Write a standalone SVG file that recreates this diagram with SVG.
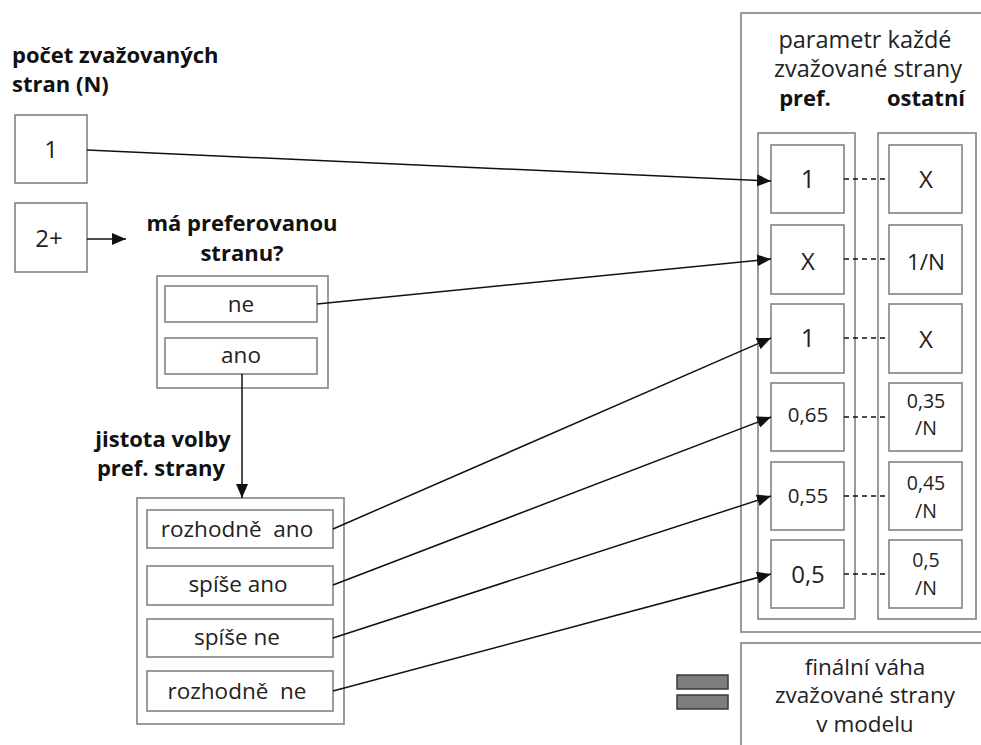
<svg xmlns="http://www.w3.org/2000/svg" width="981" height="745" viewBox="0 0 981 745">
<style>
text{font-family:"Open Sans","Noto Sans","DejaVu Sans",sans-serif;fill:#222;text-anchor:middle}
.b{font-weight:bold;font-size:22px;fill:#111}
.t{font-size:22.5px}
.h{font-size:23.5px}
.box{fill:#fff;stroke:#8a8a8a;stroke-width:1.7}
.con{stroke:#111;stroke-width:1.5;fill:none}
.dash{stroke:#111;stroke-width:1.3;stroke-dasharray:5 4;fill:none}
</style>
<defs>
<marker id="ah" markerUnits="userSpaceOnUse" markerWidth="14" markerHeight="12" refX="14" refY="6" orient="auto">
<path d="M0,0 L14,6 L0,12 Z" fill="#111"/>
</marker>
</defs>
<rect width="981" height="745" fill="#fff"/>

<g id="title">
<text class="b" x="12" y="63" style="text-anchor:start">počet zvažovaných</text>
<text class="b" x="12" y="92" style="text-anchor:start">stran (N)</text>
</g>
<g id="n1"><rect class="box" x="15" y="115" width="72" height="68"/><text x="51" y="158" font-size="24">1</text></g>
<g id="n2"><rect class="box" x="15" y="203" width="72" height="69"/><text x="49" y="247" font-size="24">2+</text></g>

<g id="q-pref">
<text class="b" x="242" y="231">má preferovanou</text>
<text class="b" x="242" y="261">stranu?</text>
<rect class="box" x="157" y="276" width="171" height="112"/>
<g id="ne"><rect class="box" x="165" y="286" width="152" height="36"/><text class="t" x="241" y="312">ne</text></g>
<g id="ano"><rect class="box" x="165" y="338" width="152" height="36"/><text class="t" x="241" y="363">ano</text></g>
</g>

<g id="q-jistota">
<text class="b" x="163" y="447">jistota volby</text>
<text class="b" x="161" y="476">pref. strany</text>
<rect class="box" x="137" y="498" width="207" height="226"/>
<g id="ra"><rect class="box" x="147" y="510" width="186" height="38"/><text class="t" x="237" y="537" font-size="21" xml:space="preserve">rozhodně  ano</text></g>
<g id="sa"><rect class="box" x="147" y="566" width="186" height="39"/><text class="t" x="238" y="592">spíše ano</text></g>
<g id="sn"><rect class="box" x="147" y="619" width="186" height="38"/><text class="t" x="237" y="645">spíše ne</text></g>
<g id="rn"><rect class="box" x="147" y="671" width="186" height="40"/><text class="t" x="237" y="699" font-size="21" xml:space="preserve">rozhodně  ne</text></g>
</g>

<g id="param">
<rect class="box" x="741" y="13" width="260" height="619"/>
<text class="h" x="865" y="48">parametr každé</text>
<text class="h" x="868" y="77">zvažované strany</text>
<text class="b" x="805" y="106">pref.</text>
<text class="b" x="926" y="106">ostatní</text>
<rect class="box" x="758" y="133" width="97" height="486"/>
<rect class="box" x="878" y="133" width="98" height="486"/>
</g>

<g id="row1"><rect class="box" x="771" y="145" width="73" height="68"/><text x="808" y="188" font-size="25">1</text>
<rect class="box" x="889" y="145" width="73" height="68"/><text x="926" y="188" font-size="24">X</text></g>
<g id="row2"><rect class="box" x="771" y="225" width="73" height="69"/><text x="808" y="270" font-size="24">X</text>
<rect class="box" x="889" y="225" width="73" height="69"/><text x="926" y="270" font-size="22.5">1/N</text></g>
<g id="row3"><rect class="box" x="771" y="304" width="73" height="69"/><text x="808" y="347" font-size="25">1</text>
<rect class="box" x="889" y="304" width="73" height="69"/><text x="926" y="348" font-size="24">X</text></g>
<g id="row4"><rect class="box" x="771" y="383" width="73" height="68"/><text x="808" y="422" font-size="20.5">0,65</text>
<rect class="box" x="889" y="383" width="73" height="68"/><text x="926" y="408" font-size="19.5">0,35</text><text x="926" y="435" font-size="19.5">/N</text></g>
<g id="row5"><rect class="box" x="771" y="462" width="73" height="68"/><text x="808" y="503" font-size="20.5">0,55</text>
<rect class="box" x="889" y="462" width="73" height="68"/><text x="926" y="490" font-size="19.5">0,45</text><text x="926" y="518" font-size="19.5">/N</text></g>
<g id="row6"><rect class="box" x="771" y="540" width="73" height="68"/><text x="808" y="583" font-size="24">0,5</text>
<rect class="box" x="889" y="540" width="73" height="68"/><text x="926" y="567" font-size="19.5">0,5</text><text x="926" y="595" font-size="19.5">/N</text></g>

<g id="final">
<rect class="box" x="741" y="643" width="260" height="120"/>
<text x="865" y="675" font-size="22.5">finální váha</text>
<text x="865" y="703" font-size="22.5">zvažované strany</text>
<text x="865" y="732" font-size="22.5">v modelu</text>
</g>

<g id="equals">
<rect x="677" y="675" width="51" height="14" fill="#7d7d7d" stroke="#3a3a3a" stroke-width="1.5"/>
<rect x="677" y="695" width="51" height="14" fill="#7d7d7d" stroke="#3a3a3a" stroke-width="1.5"/>
</g>

<g id="connectors">
<line class="con" x1="87" y1="150" x2="771" y2="181" marker-end="url(#ah)"/>
<line class="con" x1="87" y1="239" x2="126" y2="239" marker-end="url(#ah)"/>
<line class="con" x1="317" y1="304" x2="771" y2="259" marker-end="url(#ah)"/>
<line class="con" x1="242" y1="374" x2="242" y2="498" marker-end="url(#ah)"/>
<line class="con" x1="333" y1="529" x2="771" y2="338" marker-end="url(#ah)"/>
<line class="con" x1="333" y1="585" x2="771" y2="417" marker-end="url(#ah)"/>
<line class="con" x1="333" y1="638" x2="771" y2="496" marker-end="url(#ah)"/>
<line class="con" x1="333" y1="691" x2="771" y2="574" marker-end="url(#ah)"/>
<line class="dash" x1="844" y1="179" x2="889" y2="179"/>
<line class="dash" x1="844" y1="259" x2="889" y2="259"/>
<line class="dash" x1="844" y1="338" x2="889" y2="338"/>
<line class="dash" x1="844" y1="417" x2="889" y2="417"/>
<line class="dash" x1="844" y1="496" x2="889" y2="496"/>
<line class="dash" x1="844" y1="574" x2="889" y2="574"/>
</g>
</svg>
